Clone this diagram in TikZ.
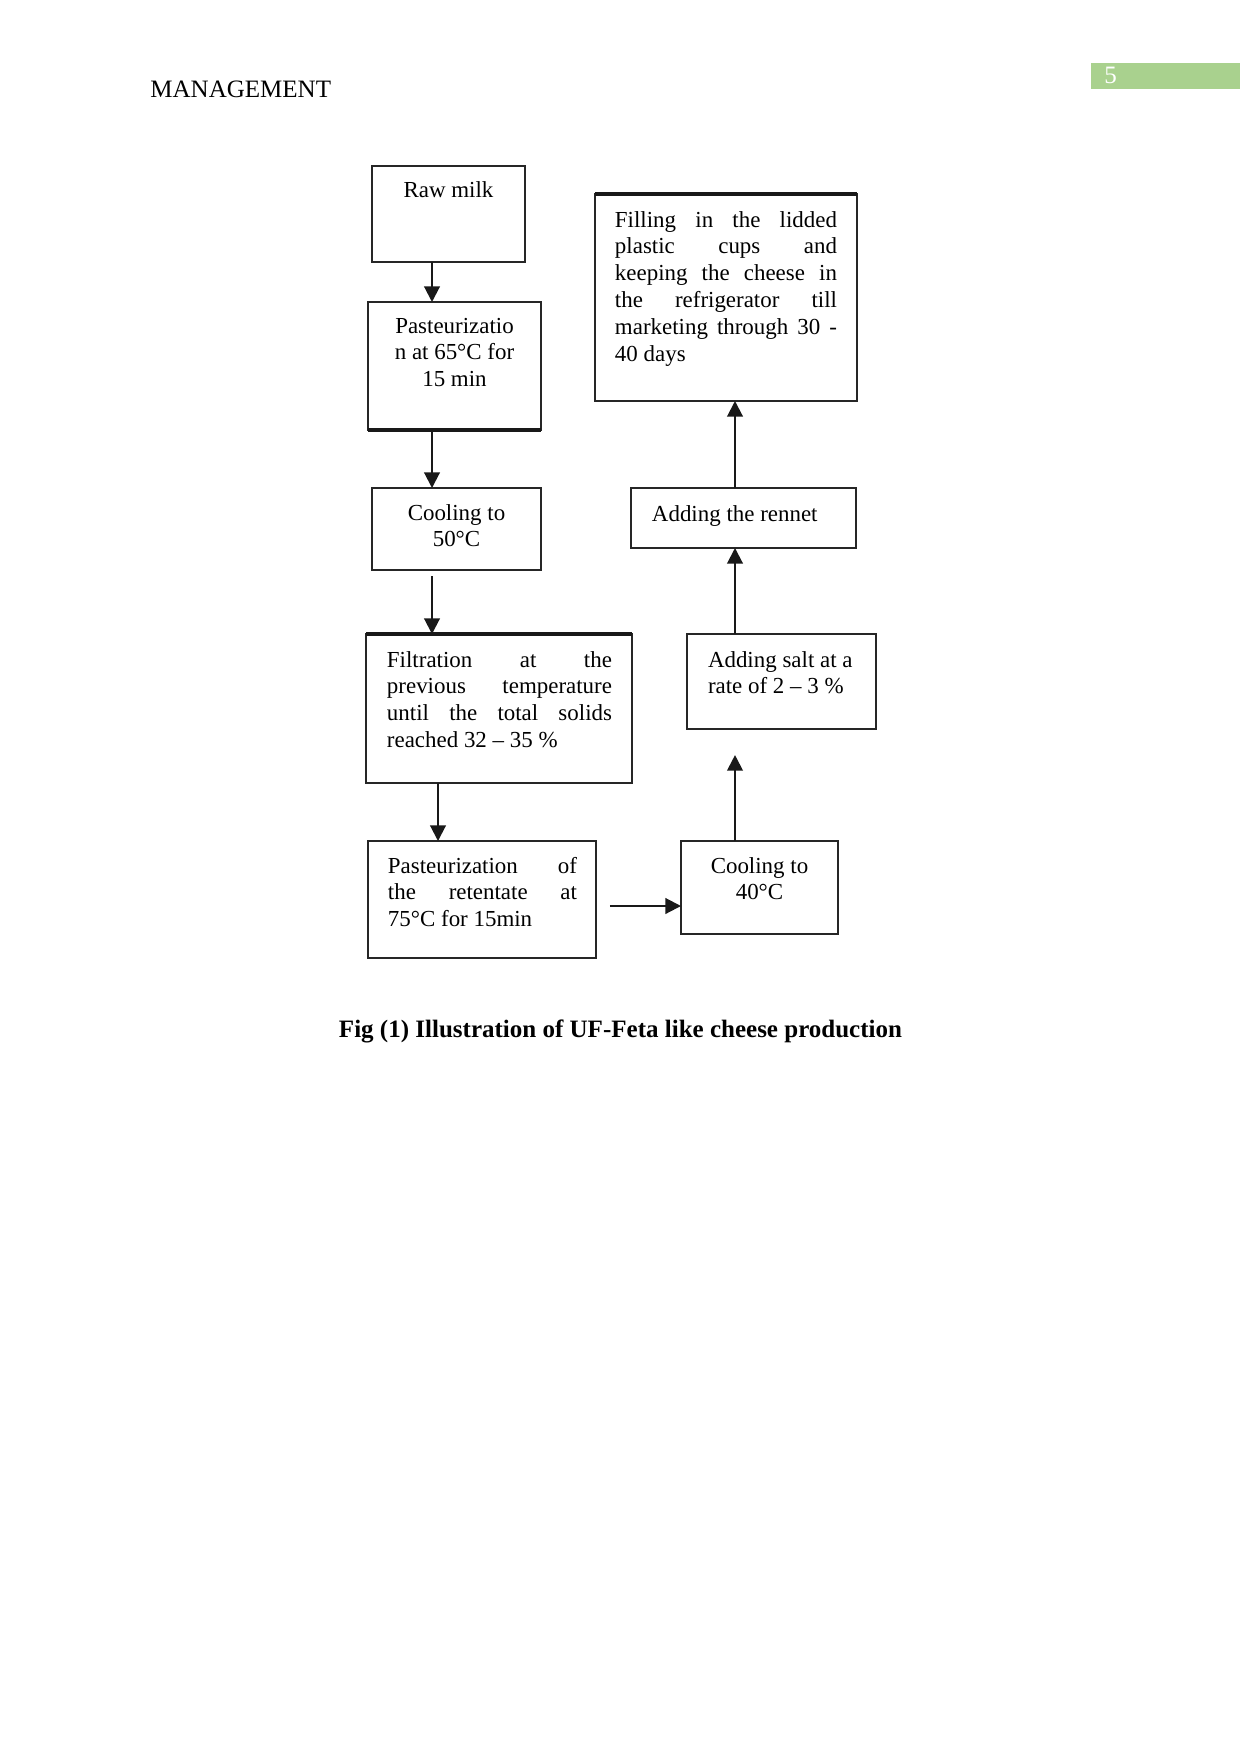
\documentclass[tikz,border=0pt]{standalone}
\usepackage{fontspec}
\setmainfont{Liberation Serif}
\usetikzlibrary{arrows.meta}
\definecolor{pagegreen}{HTML}{A9D18E}
\newcommand\bxc[4]{\begin{minipage}[c][#2][t]{#1}\centering\rule{0pt}{#3}#4\end{minipage}}
\newcommand\bxj[6]{\begin{minipage}[c][#2][t]{#1}\hspace*{#3}\begin{minipage}[t]{#4}\rule{0pt}{#5}#6\end{minipage}\end{minipage}}
\newcommand\jl[1]{\makebox[\linewidth][s]{#1}\\}
\tikzset{
  box/.style={draw=black!85, line width=0.7pt, inner sep=0pt, outer sep=0pt, anchor=north west,
    font=\fontsize{11pt}{12.9pt}\selectfont},
  arr/.style={-{Triangle[width=7.5pt,length=7.5pt]}, line width=1pt, draw=black!90},
  thickedge/.style={line width=1.8pt, draw=black!90}
}
\begin{document}
\begin{tikzpicture}[x=0.4797pt,y=-0.4797pt]
\useasboundingbox (0,0) rectangle (1241,1754);
% header
\node[anchor=base west, inner sep=0pt, font=\fontsize{12pt}{14pt}\selectfont] (hdr) at (150,98) {MANAGEMENT};
\node[fill=pagegreen, anchor=north west, minimum width=71.5pt, minimum height=12.5pt, inner sep=0pt] (pg) at (1091,63) {};
\node[anchor=base west, inner sep=0pt, text=white, font=\fontsize{12pt}{14pt}\selectfont] (pgnum) at (1104,84) {5};
% columns
\coordinate (colA) at (432,0);
\coordinate (colB) at (438,0);
\coordinate (colC) at (735,0);
\coordinate (rowA) at (0,906);
% boxes
\node[box] (raw) at (372,166) {\bxc{73.39pt}{46.05pt}{15.35pt}{Raw milk}};
\node[box] (past1) at (368,302) {\bxc{82.99pt}{61.40pt}{14.87pt}{Pasteurizatio\\n at 65°C for\\15 min}};
\node[box] (cool50) at (372,488) {\bxc{81.07pt}{39.34pt}{15.35pt}{Cooling to\\50°C}};
\node[box] (filt) at (366,634) {\bxj{127.60pt}{71.48pt}{10.07pt}{107.93pt}{15.83pt}{%
  \jl{Filtration at the}\jl{previous temperature}\jl{until the total solids}reached 32 – 35 \%}};
\node[box] (past2) at (368,841) {\bxj{109.37pt}{56.12pt}{9.59pt}{90.66pt}{15.35pt}{%
  \jl{Pasteurization of}\jl{the retentate at}75°C for 15min}};
\node[box] (cool40) at (681,841) {\bxc{75.31pt}{44.61pt}{15.35pt}{Cooling to\\40°C}};
\node[box] (salt) at (687,634) {\bxj{90.66pt}{45.57pt}{10.07pt}{78pt}{15.83pt}{\raggedright
  Adding salt at a\\rate of 2 – 3 \%}};
\node[box] (rennet) at (631,488) {\bxj{107.93pt}{28.78pt}{10.07pt}{92pt}{15.83pt}{\raggedright
  Adding the rennet}};
\node[box] (fill) at (595,194) {\bxj{125.68pt}{99.30pt}{9.59pt}{106.49pt}{15.83pt}{%
  \jl{Filling in the lidded}\jl{plastic cups and}\jl{keeping the cheese in}\jl{the refrigerator till}\jl{marketing through 30 -}40 days}};
% thick edges
\draw[thickedge] (past1.south west) -- (past1.south east);
\draw[thickedge] (filt.north west) -- (filt.north east);
\draw[thickedge] (fill.north west) -- (fill.north east);
% connectors
\draw[arr] (raw.south -| colA) -- (past1.north -| colA);
\draw[arr] (past1.south -| colA) -- (cool50.north -| colA);
\draw[arr, shorten <=2.9pt] (cool50.south -| colA) -- (filt.north -| colA);
\draw[arr] (filt.south -| colB) -- (past2.north -| colB);
\draw[arr, shorten <=6.7pt] (past2.east |- rowA) -- (cool40.west |- rowA);
\draw[arr, shorten >=12.5pt] (cool40.north -| colC) -- (salt.south -| colC);
\draw[arr] (salt.north -| colC) -- (rennet.south -| colC);
\draw[arr] (rennet.north -| colC) -- (fill.south -| colC);
% caption
\node[anchor=base, inner sep=0pt, font=\bfseries\fontsize{12pt}{14pt}\selectfont] (cap) at (620.5,1037) {Fig (1) Illustration of UF-Feta like cheese production};
\end{tikzpicture}
\end{document}
